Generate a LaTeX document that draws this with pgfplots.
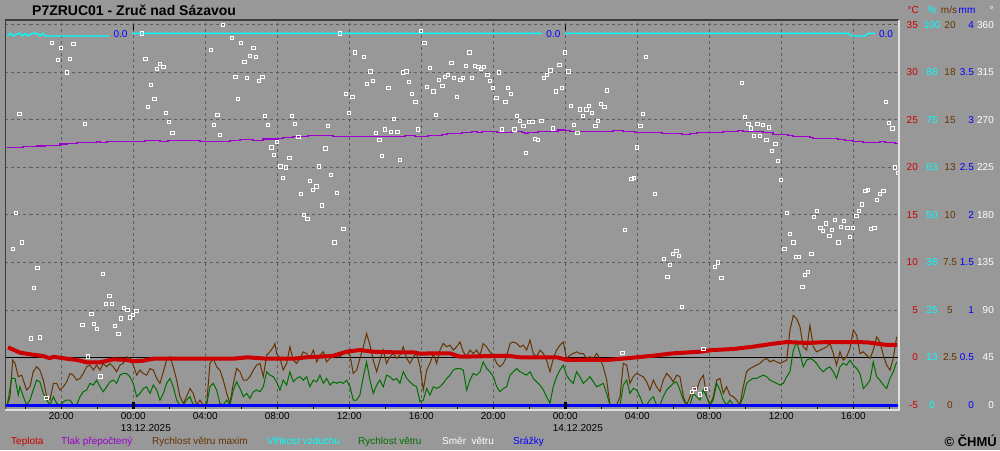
\documentclass[border=0pt]{standalone}
\usepackage{fontspec}
\setmainfont{Liberation Sans}
\usepackage{pgfplots}
\pgfplotsset{compat=1.18}
\definecolor{bg}{HTML}{989898}
\definecolor{gridc}{HTML}{5E5E5E}
\definecolor{tred}{HTML}{CC0000}
\definecolor{tpurple}{HTML}{9900CC}
\definecolor{tbrown}{HTML}{663300}
\definecolor{tcyan}{HTML}{00FFFF}
\definecolor{tgreen}{HTML}{006E00}
\definecolor{tblue}{HTML}{0000FF}
\definecolor{frdark}{HTML}{3C3C3C}
\definecolor{frlight}{HTML}{E0E0E0}
\pgfplotsset{
  base/.style={
    scale only axis, width=893.5pt, height=390pt,
    at={(5.5pt,40pt)}, anchor=south west,
    xmin=-7.1, xmax=42.54,
    axis line style={draw=none},
    major tick length=0pt, minor tick length=0pt,
    tick style={draw=none},
    xtick=\empty, ytick=\empty,
    /pgf/number format/assume math mode=true,
    tick label style={font=\fontsize{10}{12}\selectfont, inner sep=0pt},
  },
}
\begin{document}
\begin{tikzpicture}[x=1pt,y=1pt]
\fill[bg] (0,0) rectangle (1000,450);
% ---------- temperature axis: grid, zero line, pressure
\begin{axis}[base, ymin=-5.526, ymax=35.526,
  xtick={-4,0,...,40},
  xticklabels={20:00,{00:00\\\rlap{13.12.2025}},04:00,08:00,12:00,16:00,20:00,{00:00\\\rlap{14.12.2025}},04:00,08:00,12:00,16:00},
  xticklabel style={anchor=north, align=left, yshift=-2.4pt, text=black},
  ytick={-5,0,...,35},
  yticklabels={-5,0,5,10,15,20,25,30,35},
  yticklabel pos=right,
  yticklabel style={anchor=east, xshift=19pt, text=tred},
  xmajorgrids, ymajorgrids,
  major grid style={gridc, dash pattern=on 3pt off 3pt, line width=1pt},
]
\addplot[black, line width=1pt] coordinates {(-7.1,0) (42.54,0)};
\addplot[tpurple, line width=1.5pt, const plot] coordinates {
(-7.02,22.12) (-6.13,22.19) (-5.35,22.26) (-4.91,22.33) (-4.07,22.47) (-3.68,22.54)
(-3.13,22.65) (-2.02,22.75) (-1.85,22.65) (-1.46,22.75) (0.65,22.86) (1.48,22.75)
(1.93,22.86) (3.71,22.75) (5.37,22.86) (5.93,22.96) (6.65,22.86) (7.21,23.00)
(8.04,23.07) (8.32,23.18) (8.87,23.28) (9.71,23.39) (11.09,23.28) (15.09,23.39)
(15.65,23.28) (16.37,23.39) (17.15,23.49) (17.43,23.60) (18.26,23.70) (18.82,23.81)
(19.09,23.70) (19.37,23.81) (20.21,23.70) (21.04,23.81) (21.59,23.70) (21.76,23.60)
(21.93,23.70) (22.48,23.81) (23.59,23.95) (23.98,23.88) (24.26,23.81) (26.65,23.91)
(27.21,23.81) (27.87,23.70) (29.37,23.60) (30.48,23.49) (30.93,23.60) (31.32,23.70)
(32.76,23.81) (33.59,23.91) (33.87,23.81) (34.98,23.70) (35.54,23.49) (36.37,23.39)
(36.65,23.28) (37.59,23.18) (37.76,23.07) (39.15,22.96) (39.54,22.86) (39.98,22.75)
(40.54,22.65) (41.48,22.75) (41.76,22.65) (42.32,22.54) (42.54,22.54)};
\end{axis}
% ---------- humidity axis
\begin{axis}[base, ymin=-1.316, ymax=101.316,
  ytick={0,12.5,...,100},
  yticklabels={0,13,25,38,50,63,75,88,100},
  yticklabel pos=right,
  yticklabel style={anchor=center, xshift=33pt, text=tcyan},
]
\addplot[tcyan, line width=1.3pt] coordinates {
(-7.00,97.1) (-6.85,97.8) (-6.67,97.1) (-6.39,97.8) (-6.28,97.8) (-6.17,97.1)
(-6.02,97.8) (-5.85,97.1) (-5.63,97.8) (-5.35,97.8) (-5.19,97.1) (-5.02,97.8)
(-4.91,97.1) (-0.80,97.1) (-0.70,97.8) (39.72,97.8) (39.91,97.1) (40.65,97.1)
(40.83,97.8) (42.54,97.8)};
\node[fill=bg, text=tblue, font=\fontsize{10}{12}\selectfont, inner xsep=4.5pt, inner ysep=1pt] at (axis cs:-0.71,97.6) {0.0};
\node[fill=bg, text=tblue, font=\fontsize{10}{12}\selectfont, inner xsep=4.5pt, inner ysep=1pt] at (axis cs:23.34,97.6) {0.0};
\node[fill=bg, text=tblue, font=\fontsize{10}{12}\selectfont, inner xsep=4.5pt, inner ysep=1pt] at (axis cs:41.82,97.6) {0.0};
\end{axis}
% ---------- wind axis
\begin{axis}[base, ymin=-0.263, ymax=20.263,
  ytick={0,2.5,...,20},
  yticklabels={0,2.5,5,7.5,10,13,15,18,20},
  yticklabel pos=right,
  yticklabel style={anchor=center, xshift=51pt, text=tbrown},
]
\addplot[tbrown, line width=1pt] coordinates {
(-7.00,0) (-6.85,0.44) (-6.70,2.36) (-6.57,2.19) (-6.39,1.49) (-6.20,1.57) (-6.11,1.31)
(-5.93,0.79) (-5.74,0.96) (-5.56,1.75) (-5.37,2.01) (-5.19,1.84) (-5.00,1.31) (-4.81,0.44)
(-4.63,0.26) (-4.44,1.14) (-4.26,1.14) (-4.07,0.79) (-3.89,0.96) (-3.70,1.22) (-3.52,1.66)
(-3.33,1.57) (-3.15,1.31) (-2.96,1.40) (-2.78,1.66) (-2.59,2.01) (-2.41,2.10) (-2.22,1.84)
(-2.04,2.10) (-1.85,1.84) (-1.67,2.19) (-1.48,2.01) (-1.30,2.19) (-1.11,2.01) (-0.93,1.75)
(-0.74,2.10) (-0.56,2.19) (-0.37,2.54) (-0.19,2.45) (0.00,2.10) (0.19,1.57) (0.37,1.84)
(0.56,1.66) (0.74,1.57) (0.93,1.92) (1.11,1.84) (1.30,1.40) (1.48,1.14) (1.67,1.75)
(1.85,2.36) (2.04,2.54) (2.22,2.01) (2.41,1.31) (2.59,0.44) (2.78,0.09) (2.96,0.44)
(3.15,0.87) (3.33,0.61) (3.52,0) (3.70,0.26) (3.89,0) (4.07,0) (4.26,2.19) (4.44,2.45)
(4.63,2.01) (4.81,1.84) (5.00,1.31) (5.19,0.61) (5.37,0.09) (5.56,1.14) (5.74,1.92)
(5.93,1.75) (6.11,1.31) (6.30,1.31) (6.48,1.49) (6.67,1.84) (6.85,2.10) (7.04,2.19)
(7.22,1.49) (7.41,2.62) (7.59,2.80) (7.78,3.06) (7.87,3.24) (7.96,2.71) (8.15,2.45)
(8.33,1.84) (8.52,2.19) (8.70,3.06) (8.89,2.36) (9.07,2.19) (9.26,2.45) (9.44,2.80)
(9.63,2.71) (9.81,2.45) (10.00,2.89) (10.19,2.27) (10.37,2.62) (10.56,2.80) (10.74,2.27)
(10.93,2.45) (11.11,2.62) (11.30,2.71) (11.48,2.54) (11.67,2.71) (11.85,2.80) (12.04,2.62)
(12.22,1.66) (12.41,1.84) (12.59,2.45) (12.78,3.06) (12.96,3.76) (13.15,3.15) (13.33,2.36)
(13.52,1.75) (13.70,2.36) (13.89,2.89) (14.07,2.19) (14.26,2.54) (14.44,2.71) (14.63,2.45)
(14.81,2.62) (15.00,3.06) (15.19,2.45) (15.37,2.19) (15.56,2.54) (15.74,2.71) (15.93,2.01)
(16.11,0.79) (16.30,1.84) (16.48,2.19) (16.67,2.71) (16.85,2.19) (17.04,2.89)
(17.22,3.24) (17.41,3.06) (17.59,3.15) (17.78,2.89) (17.96,3.06) (18.15,3.32) (18.33,2.80)
(18.52,2.54) (18.70,2.89) (18.89,2.71) (19.07,2.89) (19.26,2.62) (19.44,3.24) (19.63,3.06)
(19.81,2.80) (20.00,2.62) (20.19,2.19) (20.37,2.01) (20.56,2.19) (20.74,2.54) (20.93,3.24)
(21.11,3.32) (21.30,3.24) (21.48,3.06) (21.67,3.15) (21.85,2.89) (22.04,3.41) (22.22,2.71)
(22.41,2.54) (22.59,2.89) (22.78,2.71) (22.96,2.36) (23.15,1.75) (23.33,2.45) (23.52,2.89)
(23.70,3.15) (23.89,3.32) (24.07,2.45) (24.26,2.62) (24.44,2.71) (24.63,2.80) (24.81,2.71)
(25.00,2.71) (25.19,2.45) (25.37,2.54) (25.56,2.45) (25.74,2.71) (25.93,2.45) (26.11,2.01)
(26.30,1.31) (26.48,0) (26.67,0) (26.85,0) (27.04,0.44) (27.22,2.19) (27.41,2.10)
(27.59,1.14) (27.78,1.49) (27.96,1.66) (28.15,1.57) (28.33,1.49) (28.52,1.22) (28.70,0.79)
(28.89,1.31) (29.07,0.96) (29.26,0.70) (29.44,1.31) (29.63,1.66) (29.81,1.49) (30.00,1.22)
(30.19,1.57) (30.37,1.49) (30.56,0.44) (30.74,0) (30.93,0.44) (31.11,0.96) (31.30,0.79)
(31.48,1.31) (31.67,1.57) (31.85,0.44) (32.04,0) (32.22,0.44) (32.41,1.31) (32.59,1.40)
(32.78,0.61) (32.96,0.96) (33.15,0.52) (33.33,0.44) (33.52,0.26) (33.70,0) (33.89,0.96)
(34.07,1.75) (34.26,1.92) (34.44,2.01) (34.63,2.10) (34.81,2.19) (35.00,2.36) (35.19,2.45)
(35.37,2.27) (35.56,2.36) (35.74,2.27) (35.93,2.19) (36.11,2.27) (36.30,2.36) (36.48,3.94)
(36.67,4.72) (36.85,4.55) (37.04,4.11) (37.22,3.06) (37.41,2.89) (37.59,4.20) (37.78,3.06)
(37.96,2.80) (38.15,2.89) (38.33,2.97) (38.52,3.06) (38.70,3.24) (38.89,2.71) (39.07,2.10)
(39.26,2.80) (39.44,2.36) (39.63,2.54) (39.81,2.97) (40.00,3.94) (40.19,3.67) (40.37,2.71)
(40.56,2.80) (40.74,2.62) (40.93,2.45) (41.11,2.89) (41.30,3.59) (41.48,3.32) (41.67,2.62)
(41.85,2.10) (42.04,1.84) (42.22,2.45) (42.41,3.59)};
\addplot[tgreen, line width=1pt] coordinates {
(-7.00,0) (-6.76,1.40) (-6.57,1.40) (-6.39,0.52) (-6.30,0.96) (-6.11,0.44) (-5.93,0)
(-5.74,0.26) (-5.56,0.79) (-5.37,1.31) (-5.19,1.22) (-5.00,0.61) (-4.81,0.26) (-4.63,0)
(-4.44,0.44) (-4.26,0.09) (-4.07,0) (-3.89,0.17) (-3.70,0.26) (-3.52,0.26) (-3.33,0)
(-3.15,0) (-2.96,0.44) (-2.78,0.70) (-2.59,0.79) (-2.41,1.14) (-2.22,1.05) (-2.04,1.31)
(-1.85,0.96) (-1.67,0.70) (-1.48,0.96) (-1.30,1.22) (-1.11,1.31) (-0.93,1.14) (-0.74,1.57)
(-0.56,1.66) (-0.37,1.66) (-0.19,1.49) (0.00,1.14) (0.19,0.44) (0.37,0.61) (0.56,0.87)
(0.74,0.96) (0.93,0.61) (1.11,1.05) (1.30,0.79) (1.48,0.26) (1.67,0.61) (1.85,1.14)
(2.04,1.40) (2.22,0.96) (2.41,0.26) (2.59,0) (2.78,0) (2.96,0.26) (3.15,0.44) (3.33,0)
(3.52,0) (3.70,0) (3.89,0) (4.07,0) (4.26,0.96) (4.44,1.14) (4.63,0.79) (4.81,0.09)
(5.00,0) (5.19,0.26) (5.37,0) (5.56,0.79) (5.74,1.22) (5.93,0.87) (6.11,0.44) (6.30,0.61)
(6.48,0.35) (6.67,0.70) (6.85,0.79) (7.04,0.70) (7.22,0.96) (7.41,1.75) (7.59,1.57)
(7.78,1.49) (7.96,1.22) (8.15,0.79) (8.33,1.31) (8.52,1.05) (8.70,1.75) (8.89,1.22)
(9.07,1.40) (9.26,1.49) (9.44,1.31) (9.63,1.49) (9.81,0.96) (10.00,1.31) (10.19,1.22)
(10.37,1.57) (10.56,1.14) (10.74,1.40) (10.93,1.05) (11.11,1.22) (11.30,1.14) (11.48,1.22)
(11.67,1.14) (11.85,1.31) (12.04,0.96) (12.22,0.26) (12.41,0.26) (12.59,0.52) (12.78,1.49)
(12.96,2.27) (13.15,1.31) (13.33,0.61) (13.52,1.05) (13.70,1.31) (13.89,0.96) (14.07,1.57)
(14.26,1.49) (14.44,1.31) (14.63,1.40) (14.81,1.14) (15.00,1.75) (15.19,1.40) (15.37,1.22)
(15.56,1.05) (15.74,0.96) (15.93,0.17) (16.11,0.26) (16.30,0.87) (16.48,0.52) (16.67,0.96)
(16.85,0.87) (17.04,0.96)
(17.22,1.14) (17.41,1.40) (17.59,1.57) (17.78,1.84) (17.96,1.92) (18.15,1.92) (18.33,1.84)
(18.52,0.79) (18.70,1.31) (18.89,1.66) (19.07,1.57) (19.26,1.75) (19.44,2.27) (19.63,1.92)
(19.81,1.75) (20.00,1.49) (20.19,0.96) (20.37,0.70) (20.56,0.87) (20.74,0.96) (20.93,1.57)
(21.11,1.75) (21.30,1.92) (21.48,1.75) (21.67,1.66) (21.85,1.57) (22.04,1.75) (22.22,1.40)
(22.41,1.22) (22.59,1.05) (22.78,0.79) (22.96,0.44) (23.15,0.09) (23.33,0.96) (23.52,1.49)
(23.70,1.84) (23.89,2.10) (24.07,1.57) (24.26,1.31) (24.44,1.14) (24.63,1.75) (24.81,1.49)
(25.00,1.14) (25.19,1.31) (25.37,1.49) (25.56,1.22) (25.74,0.96) (25.93,1.05) (26.11,1.14)
(26.30,0.61) (26.48,0) (26.67,0) (26.85,0) (27.04,0) (27.22,1.05) (27.41,1.31) (27.59,0.61)
(27.78,0.87) (27.96,0.79) (28.15,0.44) (28.33,0) (28.52,0) (28.70,0.26) (28.89,0.44)
(29.07,0) (29.26,0) (29.44,0.44) (29.63,0.79) (29.81,0.96) (30.00,1.14) (30.19,1.22)
(30.37,0.79) (30.56,0.26) (30.74,0) (30.93,0) (31.11,0.61) (31.30,0.44) (31.48,0.26)
(31.67,0.79) (31.85,0.44) (32.04,0) (32.22,0.26) (32.41,1.14) (32.59,0.79) (32.78,0.26)
(32.96,0) (33.15,0.26) (33.33,0) (33.52,0) (33.70,0) (33.89,0.44) (34.07,1.14) (34.26,1.31)
(34.44,1.40) (34.63,1.40) (34.81,1.49) (35.00,1.57) (35.19,1.49) (35.37,1.31) (35.56,1.22)
(35.74,1.14) (35.93,1.05) (36.11,1.14) (36.30,1.49) (36.48,1.75) (36.67,2.89) (36.85,3.32)
(37.04,2.71) (37.22,2.01) (37.41,2.36) (37.59,2.45) (37.78,2.36) (37.96,2.19) (38.15,1.92)
(38.33,1.75) (38.52,1.92) (38.70,2.01) (38.89,1.75) (39.07,1.40) (39.26,2.01) (39.44,2.19)
(39.63,2.10) (39.81,2.36) (40.00,2.10) (40.19,1.92) (40.37,1.66) (40.56,0.87) (40.74,1.05)
(40.93,1.31) (41.11,2.27) (41.30,1.49) (41.48,1.31) (41.67,1.05) (41.85,0.87) (42.04,1.40)
(42.22,1.75) (42.41,2.27)};
\end{axis}
% ---------- precipitation axis
\begin{axis}[base, ymin=-0.0526, ymax=4.0526,
  ytick={0,0.5,...,4},
  yticklabels={0,0.5,1,1.5,2,2.5,3,3.5,4},
  yticklabel pos=right,
  yticklabel style={anchor=east, xshift=75pt, text=tblue},
]
\addplot[tblue, line width=3pt] coordinates {(-7.1,0) (42.54,0)};
\end{axis}
% ---------- temperature line on top
\begin{axis}[base, ymin=-5.526, ymax=35.526]
\addplot[tred, line width=4pt, line join=round] coordinates {
(-6.96,1.07) (-6.29,0.51) (-5.74,0.34) (-5.02,0.16) (-4.63,-0.08) (-4.46,0.08) (-3.68,-0.13)
(-3.13,-0.26) (-2.57,-0.51) (-1.85,-0.51) (-1.13,-0.19) (-0.35,-0.26) (-0.02,-0.40) (0.54,-0.34)
(1.09,-0.13) (1.87,-0.13) (5.54,-0.13) (6.32,0.02) (7.43,-0.13) (8.87,-0.13) (9.63,0.02)
(11.07,0.16) (11.85,0.61) (12.59,0.79) (13.31,0.61) (14.43,0.55) (15.54,0.55) (15.93,0.40)
(16.65,0.44) (17.59,0.44) (18.15,0.08) (20.76,0.19) (21.48,0.02) (23.54,0.02) (24.09,-0.26)
(26.32,-0.26) (27.43,-0.08) (28.87,0.19) (29.98,0.44) (31.48,0.61) (32.21,0.79) (33.32,0.89)
(34.43,1.14) (35.54,1.45) (36.32,1.63) (37.43,1.53) (38.54,1.63) (39.65,1.63) (40.76,1.60)
(41.87,1.32) (42.43,1.32)};
\end{axis}
% ---------- wind direction axis
\begin{axis}[base, ymin=-4.737, ymax=364.737,
  ytick={0,45,...,360},
  yticklabels={0,45,90,135,180,225,270,315,360},
  yticklabel pos=right,
  yticklabel style={anchor=east, xshift=95pt, text=white},
]
\addplot[only marks, mark=square, mark size=1.6pt, mark options={draw=white, fill=none, line width=0.9pt}] coordinates {
(-6.67,148) (-6.50,182) (-6.33,276) (-6.17,154) (-5.67,63) (-5.50,111) (-5.33,130) (-5.17,64)
(-4.83,7) (-4.50,343) (-4.17,327) (-4.00,338) (-3.67,315) (-3.50,328) (-3.33,342) (-2.83,76)
(-2.67,266) (-2.50,46) (-2.33,86) (-2.17,77) (-2.00,72) (-1.83,27) (-1.67,124) (-1.50,96)
(-1.33,103) (-1.17,96) (-1.00,75) (-0.83,67) (-0.67,82) (-0.50,92) (-0.33,90) (-0.17,83)
(0.00,85) (0.17,89) (0.50,352) (0.67,328) (0.83,282) (1.00,303) (1.17,290) (1.33,318)
(1.50,323) (1.67,320) (1.83,277) (2.00,268) (2.17,258) (4.33,336) (4.50,265) (4.67,275)
(4.83,256) (5.00,360) (5.50,348) (5.67,311) (5.83,290) (6.00,343) (6.17,325) (6.33,310)
(6.50,331) (6.67,338) (6.83,330) (7.00,307) (7.17,311) (7.33,274) (7.50,265) (7.67,244)
(7.83,237) (8.00,249) (8.17,226) (8.33,215) (8.50,225) (8.67,234) (8.83,274) (9.00,266)
(9.17,254) (9.33,200) (9.50,180) (9.67,176) (9.83,212) (10.00,204) (10.17,207) (10.33,226)
(10.50,189) (10.67,243) (10.83,264) (11.00,218) (11.17,154) (11.33,201) (11.50,352) (11.67,167)
(11.83,295) (12.00,277) (12.17,292) (12.33,334) (12.83,330) (13.00,304) (13.17,316) (13.33,307)
(13.50,258) (13.67,251) (13.83,236) (14.00,261) (14.17,300) (14.33,259) (14.50,271) (14.67,259)
(14.83,232) (15.00,315) (15.17,316) (15.33,306) (15.50,295) (15.67,287) (15.83,261) (16.00,354)
(16.17,343) (16.33,301) (16.50,319) (16.67,297) (16.83,275) (17.00,308) (17.17,302) (17.33,311)
(17.50,313) (17.67,324) (17.83,310) (18.00,292) (18.17,308) (18.33,310) (18.50,321) (18.67,334)
(18.83,310) (19.00,321) (19.17,320) (19.33,318) (19.50,320) (19.67,313) (19.83,307) (20.00,300)
(20.17,291) (20.33,315) (20.50,261) (20.67,287) (20.83,300) (21.00,295) (21.17,261) (21.33,274)
(21.50,269) (21.67,264) (21.83,239) (22.00,268) (22.17,268) (22.33,252) (22.50,251) (22.67,269)
(22.83,310) (23.00,313) (23.17,317) (23.33,262) (23.50,297) (23.67,322) (23.83,300) (24.00,334)
(24.17,316) (24.33,283) (24.50,265) (24.67,258) (24.83,280) (25.00,274) (25.17,280) (25.33,283)
(25.50,277) (25.67,264) (25.83,269) (26.00,285) (26.17,282) (26.33,298) (27.17,49) (27.33,166)
(27.67,214) (27.83,215) (28.00,244) (28.17,264) (28.33,276) (28.50,330) (29.00,200) (29.50,138)
(29.67,121) (29.83,133) (30.00,143) (30.17,146) (30.33,141) (30.50,93) (31.02,12) (31.17,15)
(31.50,10) (31.67,53) (31.80,15) (32.33,131) (32.50,135) (32.67,120) (33.83,305) (34.00,273)
(34.17,266) (34.33,262) (34.50,255) (34.67,266) (34.83,255) (35.00,265) (35.17,251) (35.33,263)
(35.50,241) (35.67,247) (35.83,231) (36.00,213) (36.17,148) (36.33,182) (36.50,162) (36.67,154)
(36.83,140) (37.00,140) (37.17,112) (37.33,123) (37.50,126) (37.67,143) (37.83,178) (38.00,184)
(38.17,168) (38.33,165) (38.50,172) (38.67,160) (38.83,166) (39.00,175) (39.17,154) (39.33,169)
(39.50,174) (39.67,168) (39.83,159) (40.00,168) (40.17,179) (40.33,184) (40.50,190) (40.67,203)
(40.83,204) (41.00,167) (41.17,168) (41.33,194) (41.50,200) (41.67,203) (41.83,287) (42.00,267)
(42.17,262) (42.33,225) (42.50,220)};
\end{axis}
% ---------- frame and ticks
\begin{axis}[base, ymin=-5.526, ymax=35.526, clip=false,
  xtick={-6,-4,...,42}, xticklabels={,,},
  xtick pos=left, tick align=inside,
  major tick length=5pt,
  tick style={draw=black, line width=1pt},
  extra x ticks={0,24}, extra x tick labels={,,},
  extra x tick style={major tick length=8pt, tick style={line width=3pt}},
]
\draw[frdark, line width=1.5pt] (rel axis cs:0,0) -- (rel axis cs:0,1) -- (rel axis cs:1,1);
\draw[frlight, line width=1.5pt] (rel axis cs:1,1) -- (rel axis cs:1,0) -- (rel axis cs:0,0);
\draw[black, line width=1.5pt] (axis cs:0,35) -- (axis cs:0,34.45);
\draw[black, line width=1.5pt] (axis cs:24,35) -- (axis cs:24,34.45);
\end{axis}
% ---------- texts
\node[anchor=base west, inner sep=0pt, font=\fontsize{14}{16}\selectfont\bfseries] at (32,434) {P7ZRUC01 - Zruč nad Sázavou};
\begin{scope}[every node/.style={inner sep=0pt, font=\fontsize{10}{12}\selectfont}]
\node[anchor=base east, text=tred] at (919,436) {°C};
\node[anchor=base, text=tcyan] at (932,436) {\%};
\node[anchor=base, text=tbrown] at (949,436) {m/s};
\node[anchor=base, text=tblue] at (967,436) {mm};
\node[anchor=base, text=white] at (991.5,436) {°};
\node[anchor=base west, text=tred] at (11,5.4) {Teplota};
\node[anchor=base west, text=tpurple] at (61,5.4) {Tlak přepočtený};
\node[anchor=base west, text=tbrown] at (152,5.4) {Rychlost větru maxim};
\node[anchor=base west, text=tcyan] at (267,5.4) {Vlhkost vzduchu};
\node[anchor=base west, text=tgreen] at (358,5.4) {Rychlost větru};
\node[anchor=base west, text=white] at (442,5.4) {Směr\ \ větru};
\node[anchor=base west, text=tblue] at (513,5.4) {Srážky};
\end{scope}
\node[anchor=base east, inner sep=0pt, font=\fontsize{13}{15}\selectfont\bfseries] at (997,3.5) {© ČHMÚ};
\pgfresetboundingbox
\useasboundingbox (0,0) rectangle (1000,450);
\end{tikzpicture}
\end{document}
